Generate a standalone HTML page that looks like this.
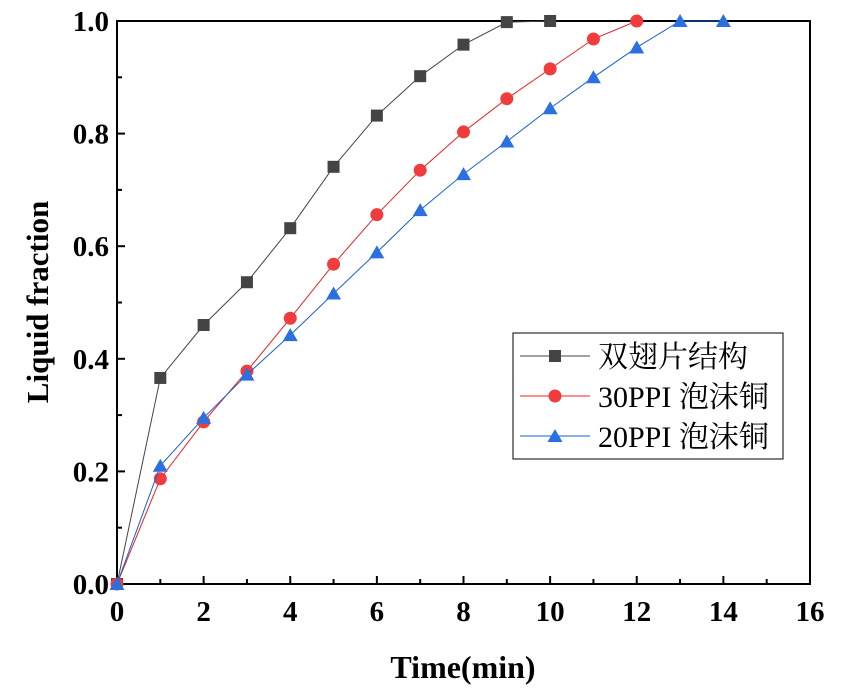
<!DOCTYPE html>
<html><head><meta charset="utf-8"><style>
body{margin:0;background:#fff;}
svg text{font-family:"Liberation Serif","Noto Serif CJK SC",serif;font-weight:bold;}
</style></head><body>
<svg id="c" width="852" height="693" xmlns="http://www.w3.org/2000/svg"></svg>
<script>
const xVals=[0,1,2,3,4,5,6,7,8,9,10,11,12,13,14];
const blackVals=[0,0.366,0.46,0.536,0.632,0.741,0.832,0.902,0.958,0.998,1.0];
const redVals=[0,0.187,0.288,0.378,0.472,0.568,0.656,0.735,0.803,0.862,0.915,0.968,1.0];
const blueVals=[0,0.21,0.295,0.372,0.442,0.516,0.589,0.664,0.728,0.786,0.845,0.9,0.953,1.0,1.0];
const xTicks=[0,2,4,6,8,10,12,14,16];
const yTicks=[0.0,0.2,0.4,0.6,0.8,1.0];
const legendLabels=["双翅片结构","30PPI 泡沫铜","20PPI 泡沫铜"];
const L=117,R=810,T=21,B=584;
const X=v=>L+(v/16)*(R-L), Y=v=>B-v*(B-T);
const svg=document.getElementById('c');const NS="http://www.w3.org/2000/svg";
function mk(t,a,p){const e=document.createElementNS(NS,t);for(const k in a)e.setAttribute(k,a[k]);(p||svg).appendChild(e);return e;}
const frame=mk('rect',{x:L,y:T,width:R-L,height:B-T,fill:'none',stroke:'#000','stroke-width':2});


for(let v=0;v<=16;v++){const major=v%2==0;const t=mk('line',{x1:X(v),x2:X(v),y1:B,y2:B-(major?8:5),stroke:'#000','stroke-width':2});

}
xTicks.forEach(v=>{const t=mk('text',{x:X(v),y:B+37,'text-anchor':'middle','font-size':29});t.textContent=v;

});
for(let i=0;i<=10;i++){const v=i/10;const major=i%2==0;const t=mk('line',{x1:L,x2:L+(major?8:5),y1:Y(v),y2:Y(v),stroke:'#000','stroke-width':2});

}
yTicks.forEach(v=>{const t=mk('text',{x:L-8,y:Y(v)+10,'text-anchor':'end','font-size':29});t.textContent=v.toFixed(1);

});
const xt=mk('text',{x:463,y:678,'text-anchor':'middle','font-size':32});xt.textContent='Time(min)';


const yt=mk('text',{x:0,y:0,'text-anchor':'middle','font-size':31,transform:`translate(48,302) rotate(-90)`});yt.textContent='Liquid fraction';


function marker(g,type,x,y,c){
 if(type==0)return mk('rect',{x:x-6,y:y-6,width:12,height:12,fill:c},g);
 if(type==1)return mk('circle',{cx:x,cy:y,r:6.5,fill:c},g);
 return mk('polygon',{points:`${x},${y-7} ${x-7.5},${y+6} ${x+7.5},${y+6}`,fill:c},g);
}
const series=[[blackVals,'#444','#444'],[redVals,'#f02020','#f03c3c'],[blueVals,'#1a5fd8','#2a70e0']];
const names=['series-dual-fin','series-30ppi','series-20ppi'];
series.forEach((s,i)=>{const g=mk('g',{});


mk('polyline',{points:s[0].map((v,j)=>X(xVals[j])+','+Y(v)).join(' '),fill:'none',stroke:s[1],'stroke-width':1},g);
s[0].forEach((v,j)=>{const m=marker(g,i,X(xVals[j]),Y(v),s[2]);

});});
const lg=mk('g',{});


mk('rect',{x:513,y:333,width:270,height:126,fill:'#fff',stroke:'#000','stroke-width':1},lg);
legendLabels.forEach((n,i)=>{const y=356+i*40;const e=mk('g',{},lg);


mk('line',{x1:520,x2:590,y1:y,y2:y,stroke:series[i][1],'stroke-width':1},e);
marker(e,i,555,y,series[i][2]);
const t=mk('text',{x:598,y:y+11,'font-size':30,'font-weight':'normal'},e);t.style.fontWeight='normal';t.textContent=n;});
</script>
</body></html>
